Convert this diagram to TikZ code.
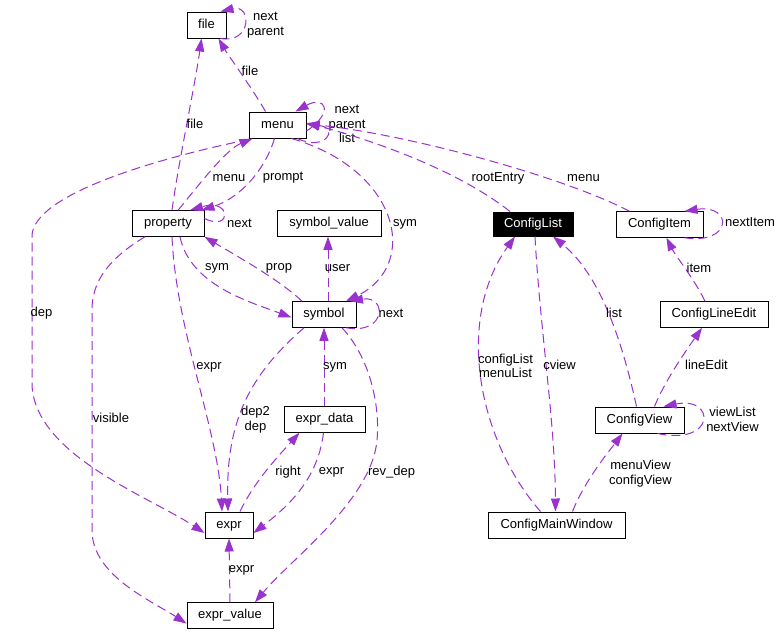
\documentclass[tikz,border=0pt]{standalone}
\usepackage{fontspec}
\setmainfont{Liberation Sans}
\usetikzlibrary{arrows.meta}
\definecolor{edgecol}{HTML}{9A32CD}
\begin{document}
\begin{tikzpicture}[x=1pt,y=-1pt,
  box/.style={draw=black, fill=white, line width=1pt, inner sep=0pt, minimum height=25.5pt,
    text height=9pt, text depth=3pt, font=\fontsize{13}{15}\selectfont},
  edge/.style={draw=edgecol, line width=1pt, dash pattern=on 9pt off 5pt,
    -{Triangle[length=13pt,width=9pt]}},
  lbl/.style={inner sep=0pt, font=\fontsize{13}{14.5}\selectfont, align=center}]
\useasboundingbox (0,0) rectangle (784,635);
\fill[white] (0,0) rectangle (784,635);

% nodes
\node[box, minimum width=39pt, minimum height=26pt] (file) at (206.5,25) {file};
\node[box, minimum width=57pt, minimum height=26pt] (menu) at (277.5,125) {menu};
\node[box, minimum width=72pt] (property) at (168,223.5) {property};
\node[box, minimum width=104pt] (symval) at (329,223.5) {symbol\_value};
\node[box, minimum width=80pt, minimum height=24pt, fill=black, text=white] (cfglist) at (533,224) {ConfigList};
\node[box, minimum width=87pt] (cfgitem) at (659.5,224.5) {ConfigItem};
\node[box, minimum width=108pt] (cfgline) at (714,314.5) {ConfigLineEdit};
\node[box, minimum width=64pt] (symbol) at (324,314.5) {symbol};
\node[box, minimum width=89pt, minimum height=26pt] (cfgview) at (639.5,420) {ConfigView};
\node[box, minimum width=81pt] (exprdata) at (324.5,419.5) {expr\_data};
\node[box, minimum width=48pt, minimum height=26pt] (expr) at (229,525) {expr};
\node[box, minimum width=137pt, minimum height=26pt] (cfgmain) at (556.5,525) {ConfigMainWindow};
\node[box, minimum width=86pt] (exprval) at (230,615.5) {expr\_value};

% file
\draw[edge] ([xshift=14pt]file.south) .. controls (252,44) and (252,4) .. ([xshift=14pt]file.north);
\node[lbl] at (265.5,25) {next\\parent};
\draw[edge] ([xshift=-12pt]menu.north) .. controls (252,88) and (228,55) .. ([xshift=12pt]file.south);
\node[lbl] at (250,70.5) {file};
\draw[edge] ([xshift=4pt]property.north) .. controls (178,165) and (195,85) .. ([xshift=-5pt]file.south);
\node[lbl] at (195,123.5) {file};

% menu
\draw[edge] ([yshift=-6pt]menu.east) .. controls (335,112) and (325,95) .. ([xshift=18pt]menu.north);
\draw[edge] ([xshift=20pt]menu.south) .. controls (325,152) and (340,128) .. ([yshift=1pt]menu.east);
\node[lbl] at (347,124) {next\\parent\\list};
\draw[edge] ([xshift=-23pt]cfglist.north) .. controls (455,168) and (365,138) .. ([yshift=2pt]menu.east);
\node[lbl] at (498,178) {rootEntry};
\draw[edge] ([xshift=-30pt]cfgitem.north) .. controls (560,175) and (400,133) .. ([yshift=1pt]menu.east);
\node[lbl] at (583.5,178) {menu};
\draw[edge] ([xshift=10pt]property.north) .. controls (195,190) and (225,150) .. ([xshift=-25pt]menu.south);
\node[lbl] at (229,178) {menu};
\draw[edge] ([xshift=-3pt]menu.south) .. controls (265,170) and (240,198) .. ([xshift=-3pt]property.north east);
\node[lbl] at (283,178) {prompt};
\draw[edge] ([yshift=-1pt]menu.south west) .. controls (150,160) and (35,195) .. (32,235) -- (32,385)
  .. controls (35,455) and (150,497) .. ([yshift=-8pt]expr.west);
\node[lbl] at (41.5,313.5) {dep};

% property
\draw[edge] ([yshift=5pt]property.east) .. controls (232,232) and (232,198) .. ([xshift=22pt]property.north);
\node[lbl] at (239.5,223) {next};
\draw[edge] ([xshift=-23pt]property.south) .. controls (110,258) and (92,280) .. (92,310) -- (92,530)
  .. controls (92,575) and (150,600) .. ([yshift=-8pt]exprval.west);
\node[lbl] at (111,418) {visible};
\draw[edge] ([xshift=12pt]property.south) .. controls (190,285) and (250,302) .. ([yshift=-3pt]symbol.west);
\node[lbl] at (217,268) {sym};
\draw[edge] ([xshift=-22pt]symbol.north) .. controls (280,280) and (235,255) .. (property.south east);
\node[lbl] at (279,268) {prop};
\draw[edge] ([xshift=4pt]property.south) .. controls (176,330) and (218,430) .. ([xshift=-7pt]expr.north);
\node[lbl] at (209,367) {expr};

% symbol
\draw[edge] ([xshift=4pt]symbol.north) -- ([xshift=-1pt]symval.south);
\node[lbl] at (337.5,268) {user};
\draw[edge] ([xshift=14pt]menu.south) .. controls (400,170) and (420,265) .. ([xshift=22pt]symbol.north);
\node[lbl] at (405,224) {sym};
\draw[edge] ([xshift=22pt]symbol.south) .. controls (387,335) and (387,295) .. ([xshift=26pt]symbol.north);
\node[lbl] at (391,313) {next};
\draw[edge] ([xshift=-20pt]symbol.south) .. controls (250,375) and (226,420) .. ([xshift=-1pt]expr.north);
\node[lbl] at (255.5,419.5) {dep2\\dep};
\draw[edge] ([xshift=-0.5pt]exprdata.north) -- (symbol.south);
\node[lbl] at (335,367) {sym};
\draw[edge] ([xshift=18pt]symbol.south) .. controls (372,360) and (380,410) .. (377,440)
  .. controls (372,500) and (290,560) .. ([xshift=25pt]exprval.north);
\node[lbl] at (391.5,472) {rev\_dep};

% expr
\draw[edge] ([xshift=11pt]expr.north) .. controls (255,480) and (282,452) .. ([xshift=-25pt]exprdata.south);
\node[lbl] at (288,472) {right};
\draw[edge] ([xshift=-1pt]exprdata.south) .. controls (318,478) and (290,505) .. ([yshift=-8pt]expr.east);
\node[lbl] at (331.5,472) {expr};
\draw[edge] (exprval.north) -- (expr.south);
\node[lbl] at (241.5,570) {expr};

% right side
\draw[edge] ([xshift=-16pt]cfgmain.north) .. controls (478,440) and (455,320) .. ([xshift=-18pt]cfglist.south);
\node[lbl] at (505.5,366) {configList\\menuList};
\draw[edge] ([xshift=2pt]cfglist.south) .. controls (540,330) and (555,420) .. ([xshift=-1pt]cfgmain.north);
\node[lbl] at (559.5,365) {cview};
\draw[edge] ([xshift=-3pt]cfgview.north) .. controls (622,340) and (600,275) .. ([xshift=20pt]cfglist.south);
\node[lbl] at (614,313) {list};
\draw[edge] ([xshift=-9pt]cfgline.north) .. controls (695,280) and (675,255) .. ([xshift=7pt]cfgitem.south);
\node[lbl] at (699,268) {item};
\draw[edge] ([xshift=15pt]cfgview.north) .. controls (665,380) and (690,345) .. ([xshift=-12pt]cfgline.south);
\node[lbl] at (706.5,365) {lineEdit};
\draw[edge] ([xshift=25pt]cfgitem.south) .. controls (733,245) and (733,204) .. ([xshift=25pt]cfgitem.north);
\node[lbl] at (750,222) {nextItem};
\draw[edge] ([xshift=18pt]cfgview.south) .. controls (716,446) and (716,396) .. ([xshift=24pt]cfgview.north);
\node[lbl] at (732.5,419.5) {viewList\\nextView};
\draw[edge] ([xshift=16pt]cfgmain.north) .. controls (585,480) and (610,450) .. ([xshift=-17pt]cfgview.south);
\node[lbl] at (640.5,473.5) {menuView\\configView};
\end{tikzpicture}
\end{document}
